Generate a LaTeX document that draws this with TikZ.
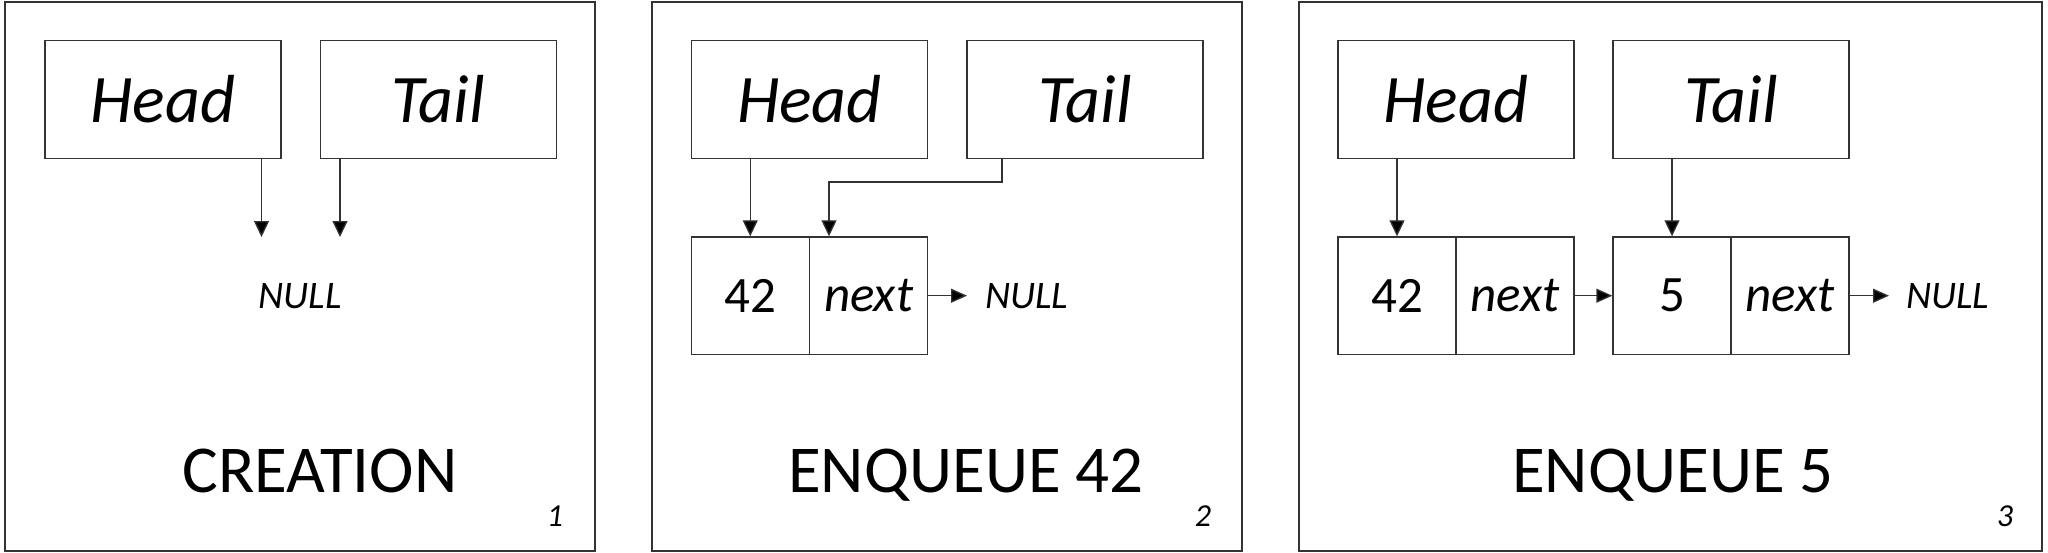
\documentclass[tikz,border=0pt]{standalone}
\usepackage{fontspec}
\setmainfont{Carlito}
\usetikzlibrary{arrows.meta}
\begin{document}
\begin{tikzpicture}[x=1pt,y=-1pt,
  frame/.style={draw=black!80,line width=1.4pt},
  ptrbox/.style={draw=black!80,line width=1.3pt,rectangle,minimum width=236pt,minimum height=118pt,inner sep=0pt,font=\fontsize{68}{70}\selectfont\itshape},
  cell/.style={draw=black!80,line width=1.3pt,rectangle,minimum width=118pt,minimum height=117.5pt,inner sep=0pt,font=\fontsize{51}{54}\selectfont},
  nullt/.style={inner sep=0pt,font=\fontsize{39}{42}\selectfont\itshape},
  title/.style={inner sep=0pt,anchor=base,font=\fontsize{67}{70}\selectfont},
  num/.style={inner sep=0pt,anchor=base,font=\fontsize{32}{36}\selectfont\itshape},
  arr/.style={draw=black!80,line width=1.3pt,-{Triangle[length=16pt,width=15pt,fill=black]}}
]
\useasboundingbox (0,0) rectangle (2048,552);
\fill[white] (0,0) rectangle (2048,552);
% ---------- panel 1 ----------
\draw[frame] (5,2) rectangle (595,551);
\node[ptrbox] (h1) at (163,99.6) {Head};
\node[ptrbox] (t1) at (438.3,99.6) {Tail};
\coordinate (h1end) at (261.5,237);
\coordinate (t1end) at (340,237);
\draw[arr] (h1.south -| h1end) -- (h1end);
\draw[arr] (t1.south -| t1end) -- (t1end);
\node[nullt] (null1) at (300,296) {NULL};
\node[title] (ttl1) at (320,492) {CREATION};
\node[num] (num1) at (555,526) {1};
% ---------- panel 2 ----------
\draw[frame] (652,2) rectangle (1242,551);
\node[ptrbox] (h2) at (809.5,99.6) {Head};
\node[ptrbox] (t2) at (1085,99.6) {Tail};
\node[cell] (v2) at (750.25,295.7) {42};
\node[cell,font=\fontsize{51}{54}\selectfont\itshape] (n2) at (868.75,295.7) {next};
\node[nullt,anchor=west] (null2) at (985,296) {NULL};
\draw[arr] (h2.south -| v2.north) -- (v2.north);
\draw[arr] (t2.south -| 1002,0) |- (829,182) -- (n2.north -| 829,0);
\draw[arr,-{Triangle[length=16pt,width=14pt,fill=black]}] (n2.east) -- (967,295.7);
\node[title] (ttl2) at (966,492) {ENQUEUE 42};
\node[num] (num2) at (1203,526) {2};
% ---------- panel 3 ----------
\draw[frame] (1299,2) rectangle (2042,551);
\node[ptrbox] (h3) at (1456,99.6) {Head};
\node[ptrbox] (t3) at (1731,99.6) {Tail};
\node[cell] (v3a) at (1397,295.7) {42};
\node[cell,font=\fontsize{51}{54}\selectfont\itshape] (n3a) at (1515,295.7) {next};
\node[cell] (v3b) at (1672,295.7) {5};
\node[cell,font=\fontsize{51}{54}\selectfont\itshape] (n3b) at (1790,295.7) {next};
\node[nullt,anchor=west] (null3) at (1906,296) {NULL};
\draw[arr] (h3.south -| v3a.north) -- (v3a.north);
\draw[arr] (t3.south -| v3b.north) -- (v3b.north);
\draw[arr,-{Triangle[length=16pt,width=14pt,fill=black]}] (n3a.east) -- (v3b.west);
\draw[arr,-{Triangle[length=16pt,width=14pt,fill=black]}] (n3b.east) -- (1889,295.7);
\node[title] (ttl3) at (1673,492) {ENQUEUE 5};
\node[num] (num3) at (2005,526) {3};
\end{tikzpicture}
\end{document}
